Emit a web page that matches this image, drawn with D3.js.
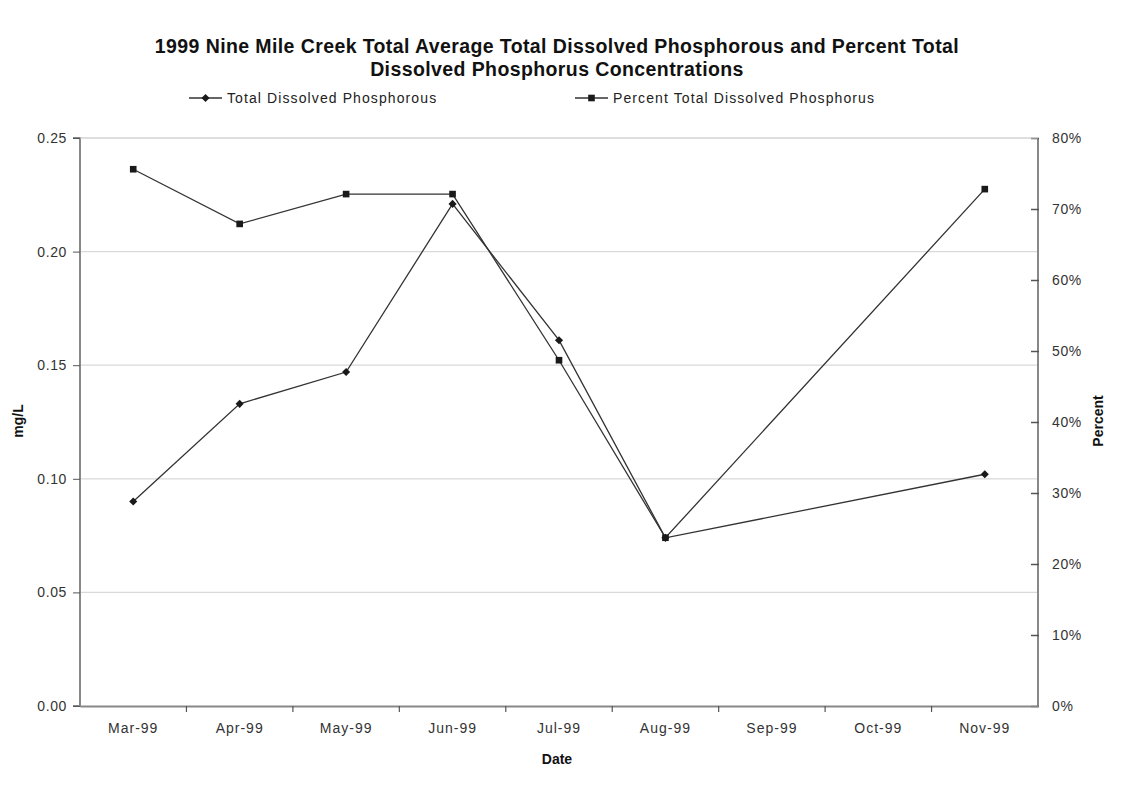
<!DOCTYPE html>
<html>
<head>
<meta charset="utf-8">
<script src="https://cdn.jsdelivr.net/npm/d3@7"></script>
<style>
  html, body { margin: 0; padding: 0; background: #fff; }
  svg { display: block; font-family: "Liberation Sans", Arial, sans-serif; }
</style>
</head>
<body>
<svg id="chart" width="1125" height="788"></svg>
<script>
// Monthly categories on the x axis
const months = ["Mar-99", "Apr-99", "May-99", "Jun-99", "Jul-99", "Aug-99", "Sep-99", "Oct-99", "Nov-99"];
// Total dissolved phosphorous, mg/L (no samples in Sep and Oct)
const tdpValues = [0.090, 0.133, 0.147, 0.221, 0.161, 0.074, null, null, 0.102];
// Percent total dissolved phosphorus (fraction)
const pctValues = [0.756, 0.679, 0.721, 0.721, 0.487, 0.237, null, null, 0.728];
// Axis ticks
const leftTicks = [0, 0.05, 0.10, 0.15, 0.20, 0.25];
const rightTicks = [0, 0.1, 0.2, 0.3, 0.4, 0.5, 0.6, 0.7, 0.8];

const titleLines = [
  "1999 Nine Mile Creek Total Average Total Dissolved Phosphorous and Percent Total",
  "Dissolved Phosphorus Concentrations"
];
const seriesNames = ["Total Dissolved Phosphorous", "Percent Total Dissolved Phosphorus"];

const svg = d3.select("#chart");
const plot = { left: 80, right: 1038, top: 138, bottom: 706 };
const ink = "#1a1a1a";

const x = d3.scaleBand().domain(months).range([plot.left, plot.right]);
const yL = d3.scaleLinear().domain([0, 0.25]).range([plot.bottom, plot.top]);
const yR = d3.scaleLinear().domain([0, 0.8]).range([plot.bottom, plot.top]);
const cx = m => x(m) + x.bandwidth() / 2;

// Horizontal gridlines at the mg/L ticks
svg.append("g").selectAll("line").data(leftTicks.filter(d => d > 0)).join("line")
  .attr("x1", plot.left).attr("x2", plot.right)
  .attr("y1", d => yL(d)).attr("y2", d => yL(d))
  .attr("stroke", "#d9d9d9").attr("stroke-width", 1.2);

// Left axis
const gL = svg.append("g").attr("transform", `translate(${plot.left},0)`)
  .call(d3.axisLeft(yL).tickValues(leftTicks).tickFormat(d3.format(".2f")).tickSize(7).tickPadding(6));
// Right axis (ticks point inward)
const gR = svg.append("g").attr("transform", `translate(${plot.right},0)`)
  .call(d3.axisRight(yR).tickValues(rightTicks).tickFormat(d3.format(".0%")).tickSize(0).tickPadding(14));
gR.selectAll(".tick").append("line").attr("x1", -7).attr("x2", 1).attr("stroke", "#444").attr("stroke-width", 1.5);
// Bottom axis with ticks between categories
const gB = svg.append("g").attr("transform", `translate(0,${plot.bottom})`)
  .call(d3.axisBottom(x).tickSize(0).tickPadding(17));
gB.selectAll(".tick line").remove();
gB.append("g").selectAll("line").data(months.slice(1)).join("line")
  .attr("x1", d => x(d)).attr("x2", d => x(d)).attr("y1", 0).attr("y2", 6)
  .attr("stroke", "#555").attr("stroke-width", 1.2);

[gL, gR, gB].forEach(g => {
  g.select(".domain").attr("stroke", "#888").attr("stroke-width", 2);
  g.selectAll(".tick line").attr("stroke", "#555");
  g.selectAll("text").attr("fill", "#333").style("font-size", "14px")
    .style("letter-spacing", "0.6px").style("font-family", "'Liberation Sans', Arial, sans-serif");
});
gB.selectAll("text").style("letter-spacing", "1px");
gR.select(".domain").attr("d", `M0,${plot.top}V${plot.bottom}`);
gL.select(".domain").attr("d", `M-7,${plot.top}H0V${plot.bottom}H-7`);
// Top border line of plot area
svg.append("line").attr("x1", plot.left).attr("x2", plot.right)
  .attr("y1", plot.top).attr("y2", plot.top).attr("stroke", "#d0d0d0").attr("stroke-width", 1.2);

// Series
const tdp = months.map((m, i) => ({ m, v: tdpValues[i] })).filter(d => d.v !== null);
const pct = months.map((m, i) => ({ m, v: pctValues[i] })).filter(d => d.v !== null);

const lineL = d3.line().x(d => cx(d.m)).y(d => yL(d.v));
const lineR = d3.line().x(d => cx(d.m)).y(d => yR(d.v));

svg.append("path").datum(tdp).attr("d", lineL)
  .attr("fill", "none").attr("stroke", "#333").attr("stroke-width", 1.3);
svg.append("path").datum(pct).attr("d", lineR)
  .attr("fill", "none").attr("stroke", "#333").attr("stroke-width", 1.3);

const diamond = d3.symbol().type(d3.symbolDiamond2).size(42);
const square = d3.symbol().type(d3.symbolSquare).size(44);

svg.append("g").selectAll("path").data(tdp).join("path")
  .attr("d", diamond)
  .attr("transform", d => `translate(${cx(d.m)},${yL(d.v)})`)
  .attr("fill", ink);
svg.append("g").selectAll("path").data(pct).join("path")
  .attr("d", square)
  .attr("transform", d => `translate(${cx(d.m)},${yR(d.v)})`)
  .attr("fill", ink);

// Title
svg.append("g").selectAll("text").data(titleLines).join("text")
  .attr("x", 557).attr("y", (d, i) => 53 + i * 23)
  .attr("text-anchor", "middle")
  .style("font-size", "19.5px").style("font-weight", "bold").style("letter-spacing", "0.4px")
  .attr("fill", "#111")
  .text(d => d);

// Legend
const legend = [
  { name: seriesNames[0], x0: 189, sym: diamond },
  { name: seriesNames[1], x0: 575, sym: square }
];
const lg = svg.append("g").selectAll("g").data(legend).join("g")
  .attr("transform", d => `translate(${d.x0},98)`);
lg.append("line").attr("x1", 0).attr("x2", 33).attr("stroke", "#333").attr("stroke-width", 1.5);
lg.append("path").attr("d", d => d.sym()).attr("transform", "translate(16.5,0)").attr("fill", ink);
lg.append("text").attr("x", 38).attr("y", 5)
  .style("font-size", "14px").style("letter-spacing", "1.1px").attr("fill", "#222")
  .text(d => d.name);

// Axis titles
svg.append("text").attr("x", 557).attr("y", 764).attr("text-anchor", "middle")
  .style("font-size", "14px").style("font-weight", "bold").attr("fill", "#111").text("Date");
svg.append("text").attr("transform", "translate(23,421) rotate(-90)").attr("text-anchor", "middle")
  .style("font-size", "14px").style("font-weight", "bold").attr("fill", "#111").text("mg/L");
svg.append("text").attr("transform", "translate(1103,421) rotate(-90)").attr("text-anchor", "middle")
  .style("font-size", "14px").style("font-weight", "bold").attr("fill", "#111").text("Percent");
</script>
</body>
</html>
